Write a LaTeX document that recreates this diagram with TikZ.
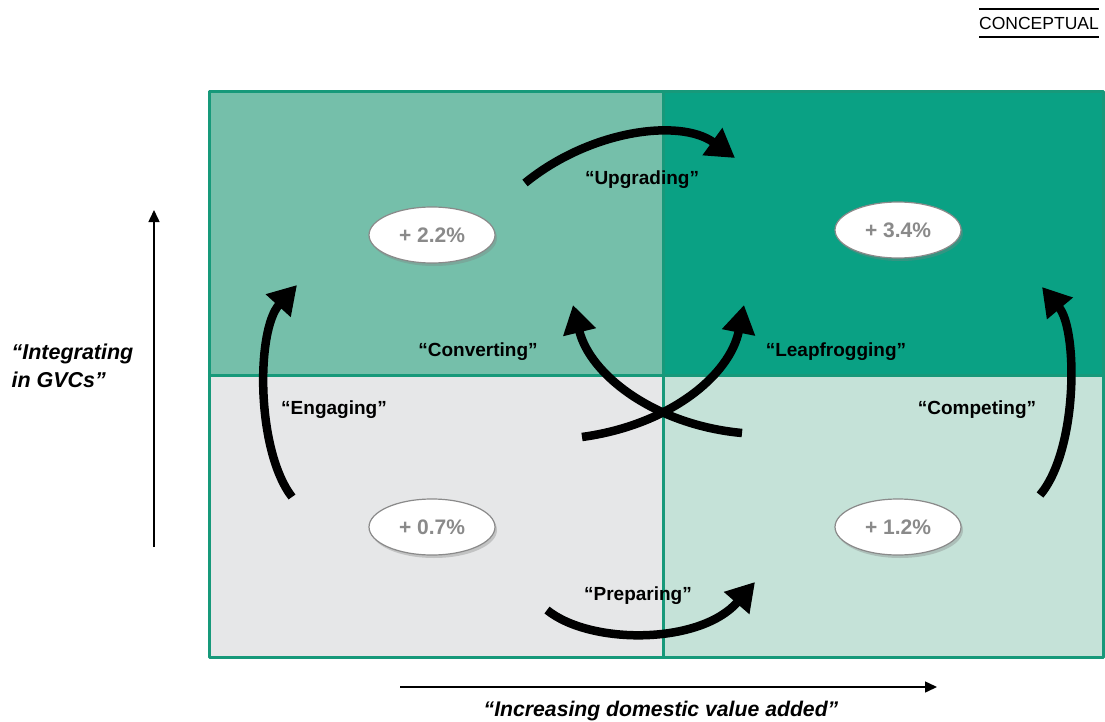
\documentclass[tikz,border=0pt]{standalone}
\usepackage{fontspec}
\setmainfont{Liberation Sans}
\usetikzlibrary{arrows.meta,shapes.geometric,shadows}
\definecolor{tlgreen}{HTML}{75BFAA}
\definecolor{trgreen}{HTML}{0AA184}
\definecolor{blgrey}{HTML}{E6E7E8}
\definecolor{brgreen}{HTML}{C5E2D8}
\definecolor{edgegreen}{HTML}{17997A}
\definecolor{gaingrey}{HTML}{8A8A8A}
\tikzset{
  frame/.style={draw=edgegreen, line width=3pt, line cap=butt},
  gain/.style={ellipse, draw=gaingrey, line width=1.2pt, fill=white, text=gaingrey,
    minimum width=126pt, minimum height=56pt, inner sep=0pt,
    font=\bfseries\fontsize{21}{24}\selectfont,
    drop shadow={opacity=0.35, shadow xshift=2pt, shadow yshift=-3pt}},
  move/.style={line width=8.5pt, line cap=butt, -{Triangle[width=32pt,length=28pt]}},
  axis/.style={line width=1.5pt, -{Triangle[width=11pt,length=12pt]}},
  tag/.style={font=\bfseries\fontsize{19}{22}\selectfont}
}
\begin{document}
\begin{tikzpicture}[x=1pt, y=-1pt, line join=round, >=stealth]
\useasboundingbox (0,0) rectangle (1105,722);
\def\xl{209}
\def\xm{663}
\def\xr{1103}
\def\yt{92}
\def\ym{375}
\def\yb{657}
% quadrants
\fill[tlgreen](\xl,\yt)rectangle(\xm,\ym);
\fill[trgreen](\xm,\yt)rectangle(\xr,\ym);
\fill[blgrey](\xl,\ym)rectangle(\xm,\yb);
\fill[brgreen](\xm,\ym)rectangle(\xr,\yb);
\draw[frame](\xl,\yt)rectangle(\xr,\yb)(\xm,\yt)--(\xm,\yb)(\xl,\ym)--(\xr,\ym);
% gains
\foreach \n/\p/\v in {gtl/{432,235}/2.2, gtr/{898,230}/3.4, gbl/{432,527}/0.7, gbr/{898,527}/1.2}
\node[gain](\n) at (\p) {+ \v\%};
% ends of the moves
\path(525,183)coordinate(U0)(735,158)coordinate(U1)
     (292,497)coordinate(E0)(297,285)coordinate(E1)
     (1040,495)coordinate(C0)(1042,287)coordinate(C1)
     (547,610)coordinate(P0)(755,582)coordinate(P1)
     (742,433)coordinate(V0)(573,305)coordinate(V1)
     (582,437)coordinate(L0)(744,305)coordinate(L1);
\draw[move](U0)..controls(590,130)and(680,118)..(U1);
\draw[move](E0)..controls(256,450)and(256,330)..(E1);
\draw[move](C0)..controls(1078,450)and(1078,330)..(C1);
\draw[move](P0)..controls(590,645)and(700,645)..(P1);
\draw[move](V0)..controls(655,425)and(590,375)..(V1);
\draw[move](L0)..controls(670,425)and(730,375)..(L1);
% move names
\node[tag](nU) at (642,180) {“Upgrading”};
\node[tag](nV) at (478,352) {“Converting”};
\node[tag](nL) at (836,352) {“Leapfrogging”};
\node[tag](nE) at (334,410) {“Engaging”};
\node[tag](nC) at (977,410) {“Competing”};
\node[tag](nP) at (638,596) {“Preparing”};
% axes
\path(154,547)coordinate(ya)(154,210)coordinate(yb)(400,687)coordinate(xa)(937,687)coordinate(xb);
\draw[axis](ya)--(yb);
\draw[axis](xa)--(xb);
\node[anchor=west, align=left, font=\bfseries\itshape\fontsize{21.5}{28}\selectfont](ylab) at (8,366) {“Integrating\\in GVCs”};
\node[font=\bfseries\itshape\fontsize{21.2}{24}\selectfont](xlab) at (661,711) {“Increasing domestic value added”};
% corner label
\node[font=\fontsize{17.5}{20}\selectfont, inner xsep=0pt, minimum height=28pt](kind) at (1039,23) {CONCEPTUAL};
\draw[line width=2pt](kind.north west)--(kind.north east)(kind.south west)--(kind.south east);
\end{tikzpicture}
\end{document}
